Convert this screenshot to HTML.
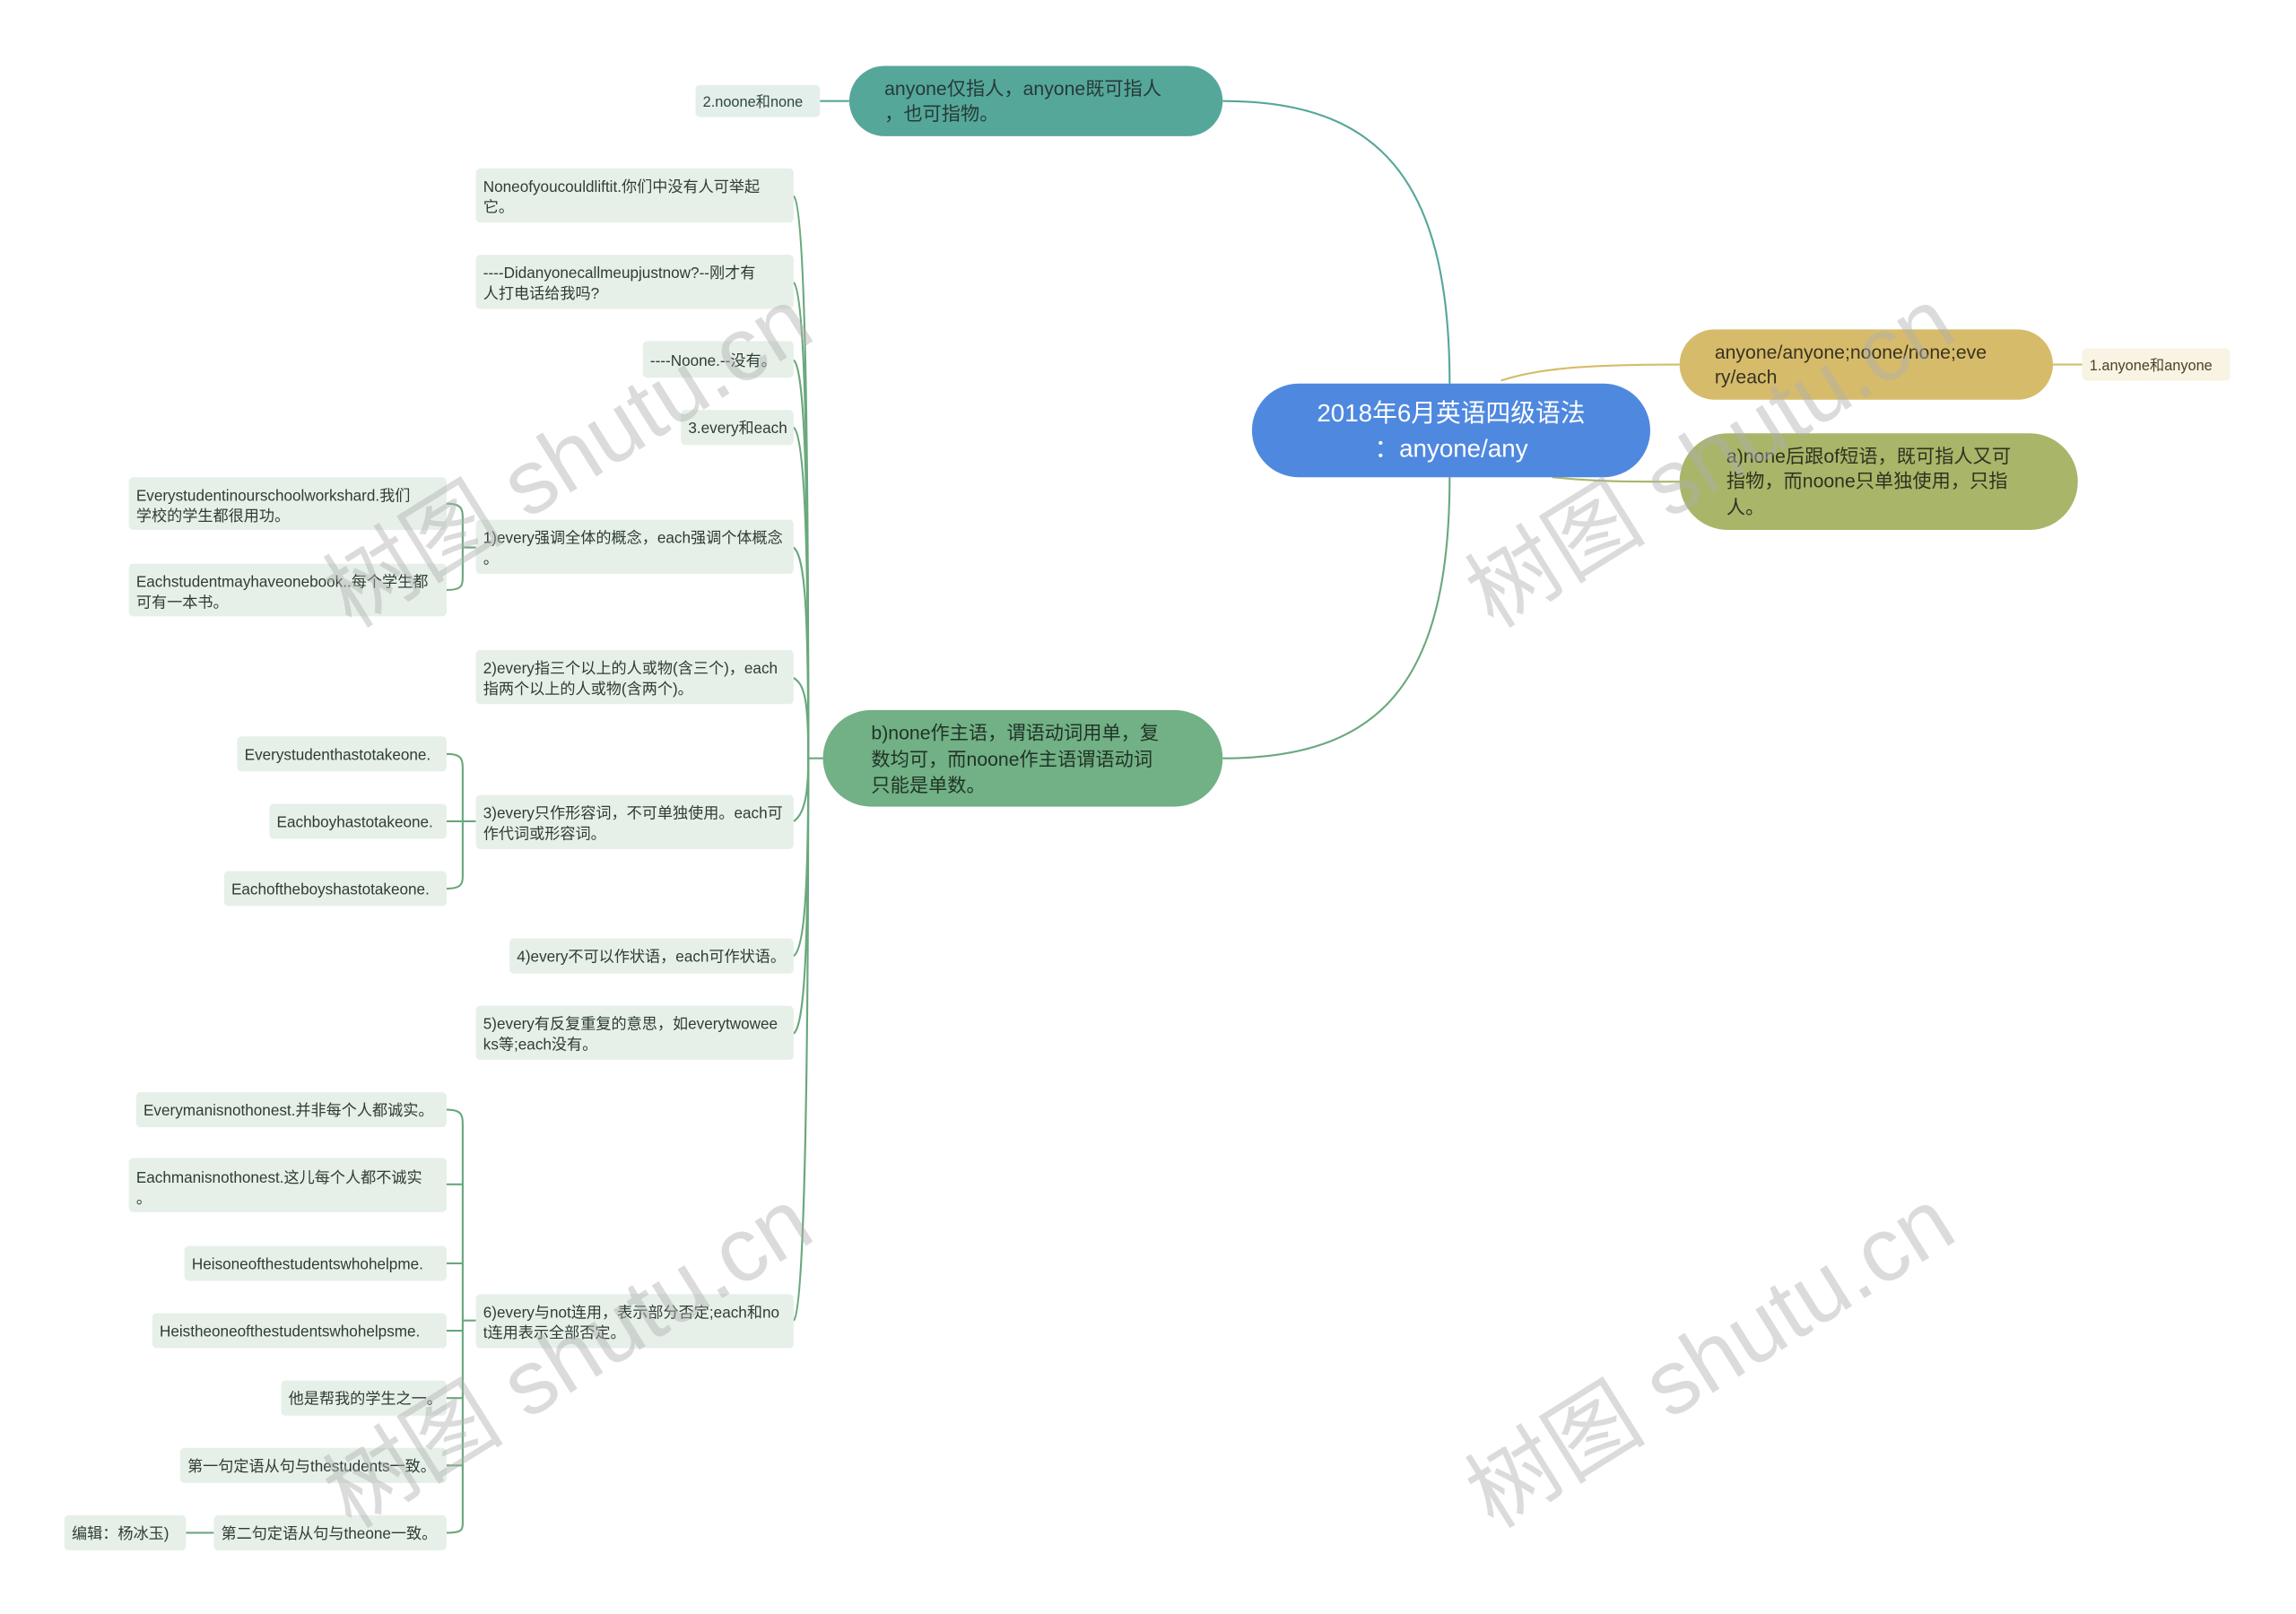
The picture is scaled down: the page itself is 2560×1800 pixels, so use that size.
<!DOCTYPE html>
<html><head><meta charset="utf-8"><style>
html,body{margin:0;padding:0;background:#fff;}
svg{display:block;}
text{font-family:"Liberation Sans","Noto Sans CJK SC",sans-serif;}
</style></head><body>
<svg width="2560" height="1800" viewBox="0 0 1568 1102.5" xmlns="http://www.w3.org/2000/svg">
<g fill="none" stroke-width="1.3">
<path d="M990 262 C990 120 940 69 835 69" stroke="#55a79a"/>
<path d="M990 326 C990 470 940 518 835 518" stroke="#6aa87d"/>
<path d="M1025 260 C1050 252 1080 249 1147 249" stroke="#d6bc6a"/>
<path d="M1060 326 C1090 329 1110 329 1147 329" stroke="#a9b568"/>
<path d="M1402 249 L1422 249" stroke="#d6bc6a"/>
<path d="M560 69 L580 69" stroke="#55a79a"/>
<g stroke="#6aa87d">
<path d="M562 518 L552 518"/>
<path d="M552 518 C552 300 550 140 542 134"/>
<path d="M552 518 C552 320 550 200 542 193"/>
<path d="M552 518 C552 340 550 252 542 246"/>
<path d="M552 518 C552 380 550 298 542 292"/>
<path d="M552 518 C552 420 550 380 542 374"/>
<path d="M552 518 C552 480 550 468 542 463"/>
<path d="M552 518 C552 540 550 556 542 561"/>
<path d="M552 518 C552 600 550 648 542 653"/>
<path d="M552 518 C552 640 550 700 542 706"/>
<path d="M552 518 C552 700 550 895 542 902"/>
<path d="M325 374 L316 374 M305 344 C316 344 316 348 316 356 L316 392 C316 400 316 403 305 403"/>
<path d="M325 561 L316 561 M305 515 C316 515 316 519 316 527 L316 597 C316 603 316 607 305 607 M305 561 L316 561"/>
<path d="M325 902 L316 902 M305 758 C316 758 316 762 316 770 L316 1039 C316 1045 316 1047 305 1047 M305 809 L316 809 M305 863 L316 863 M305 909 L316 909 M305 955 L316 955 M305 1001 L316 1001"/>
<path d="M127 1047 L146 1047"/>
</g>
</g>
<!-- main nodes -->
<rect x="855" y="262" width="272" height="64" rx="32" fill="#4f88df"/>
<text fill="#fff" font-size="17" text-anchor="middle"><tspan x="991" y="288">2018年6月英语四级语法</tspan><tspan x="991" y="312">：anyone/any</tspan></text>
<rect x="580" y="45" width="255" height="48" rx="24" fill="#55a79a"/>
<text fill="#263a36" font-size="13"><tspan x="604" y="65">anyone仅指人，anyone既可指人</tspan><tspan x="604" y="82">，也可指物。</tspan></text>
<rect x="1147" y="225" width="255" height="48" rx="24" fill="#d6bc6a"/>
<text fill="#3a3320" font-size="13"><tspan x="1171" y="245">anyone/anyone;noone/none;eve</tspan><tspan x="1171" y="262">ry/each</tspan></text>
<rect x="1147" y="296" width="272" height="66" rx="33" fill="#a9b568"/>
<text fill="#2e3320" font-size="13"><tspan x="1179" y="316">a)none后跟of短语，既可指人又可</tspan><tspan x="1179" y="333">指物，而noone只单独使用，只指</tspan><tspan x="1179" y="351">人。</tspan></text>
<rect x="562" y="485" width="273" height="66" rx="33" fill="#72b085"/>
<text fill="#1f3326" font-size="13"><tspan x="595" y="505">b)none作主语，谓语动词用单，复</tspan><tspan x="595" y="523">数均可，而noone作主语谓语动词</tspan><tspan x="595" y="541">只能是单数。</tspan></text>
<rect x="1422" y="238" width="101" height="22" rx="3" fill="#f8f3e2"/>
<text x="1427" y="253" fill="#4a4128" font-size="10">1.anyone和anyone</text>
<rect x="475" y="58" width="85" height="22" rx="3" fill="#e4efec"/>
<text x="480" y="73" fill="#2f4640" font-size="10">2.noone和none</text>
<!-- leaves -->
<g fill="#e6f0e9">
<rect x="325" y="115" width="217" height="37" rx="3"/>
<rect x="325" y="174" width="217" height="37" rx="3"/>
<rect x="439" y="233" width="103" height="25" rx="3"/>
<rect x="465" y="280" width="77" height="24" rx="3"/>
<rect x="325" y="355" width="217" height="37" rx="3"/>
<rect x="88" y="326" width="217" height="36" rx="3"/>
<rect x="88" y="385" width="217" height="36" rx="3"/>
<rect x="325" y="444" width="217" height="37" rx="3"/>
<rect x="325" y="543" width="217" height="37" rx="3"/>
<rect x="162" y="503" width="143" height="24" rx="3"/>
<rect x="184" y="549" width="121" height="24" rx="3"/>
<rect x="153" y="595" width="152" height="24" rx="3"/>
<rect x="348" y="641" width="194" height="24" rx="3"/>
<rect x="325" y="687" width="217" height="37" rx="3"/>
<rect x="325" y="884" width="217" height="37" rx="3"/>
<rect x="93" y="746" width="212" height="24" rx="3"/>
<rect x="88" y="791" width="217" height="37" rx="3"/>
<rect x="126" y="851" width="179" height="24" rx="3"/>
<rect x="104" y="897" width="201" height="24" rx="3"/>
<rect x="192" y="943" width="113" height="24" rx="3"/>
<rect x="123" y="989" width="182" height="24" rx="3"/>
<rect x="146" y="1035" width="159" height="24" rx="3"/>
<rect x="44" y="1035" width="83" height="24" rx="3"/>
</g>
<g fill="#2e3d33" font-size="10.5">
<text><tspan x="330" y="131">Noneofyoucouldliftit.你们中没有人可举起</tspan><tspan x="330" y="145">它。</tspan></text>
<text><tspan x="330" y="190">----Didanyonecallmeupjustnow?--刚才有</tspan><tspan x="330" y="204">人打电话给我吗?</tspan></text>
<text x="444" y="250">----Noone.--没有。</text>
<text x="470" y="296">3.every和each</text>
<text><tspan x="330" y="371">1)every强调全体的概念，each强调个体概念</tspan><tspan x="330" y="385">。</tspan></text>
<text><tspan x="93" y="342">Everystudentinourschoolworkshard.我们</tspan><tspan x="93" y="356">学校的学生都很用功。</tspan></text>
<text><tspan x="93" y="401">Eachstudentmayhaveonebook..每个学生都</tspan><tspan x="93" y="415">可有一本书。</tspan></text>
<text><tspan x="330" y="460">2)every指三个以上的人或物(含三个)，each</tspan><tspan x="330" y="474">指两个以上的人或物(含两个)。</tspan></text>
<text><tspan x="330" y="559">3)every只作形容词，不可单独使用。each可</tspan><tspan x="330" y="573">作代词或形容词。</tspan></text>
<text x="167" y="519">Everystudenthastotakeone.</text>
<text x="189" y="565">Eachboyhastotakeone.</text>
<text x="158" y="611">Eachoftheboyshastotakeone.</text>
<text x="353" y="657">4)every不可以作状语，each可作状语。</text>
<text><tspan x="330" y="703">5)every有反复重复的意思，如everytwowee</tspan><tspan x="330" y="717">ks等;each没有。</tspan></text>
<text><tspan x="330" y="900">6)every与not连用，表示部分否定;each和no</tspan><tspan x="330" y="914">t连用表示全部否定。</tspan></text>
<text x="98" y="762">Everymanisnothonest.并非每个人都诚实。</text>
<text><tspan x="93" y="808">Eachmanisnothonest.这儿每个人都不诚实</tspan><tspan x="93" y="822">。</tspan></text>
<text x="131" y="867">Heisoneofthestudentswhohelpme.</text>
<text x="109" y="913">Heistheoneofthestudentswhohelpsme.</text>
<text x="197" y="959">他是帮我的学生之一。</text>
<text x="128" y="1005">第一句定语从句与thestudents一致。</text>
<text x="151" y="1051">第二句定语从句与theone一致。</text>
<text x="49" y="1051">编辑：杨冰玉)</text>
</g>
<!-- watermarks -->
<g fill="#b0b0b0" fill-opacity="0.45" font-size="62" font-family="Liberation Serif,Noto Serif CJK SC,serif">
<text transform="translate(240,430) rotate(-32)" font-family="Liberation Serif,Noto Serif CJK SC,serif">树图 shutu.cn</text>
<text transform="translate(1020,430) rotate(-32)" font-family="Liberation Serif,Noto Serif CJK SC,serif">树图 shutu.cn</text>
<text transform="translate(240,1045) rotate(-32)" font-family="Liberation Serif,Noto Serif CJK SC,serif">树图 shutu.cn</text>
<text transform="translate(1020,1045) rotate(-32)" font-family="Liberation Serif,Noto Serif CJK SC,serif">树图 shutu.cn</text>
</g>
</svg>
</body></html>
